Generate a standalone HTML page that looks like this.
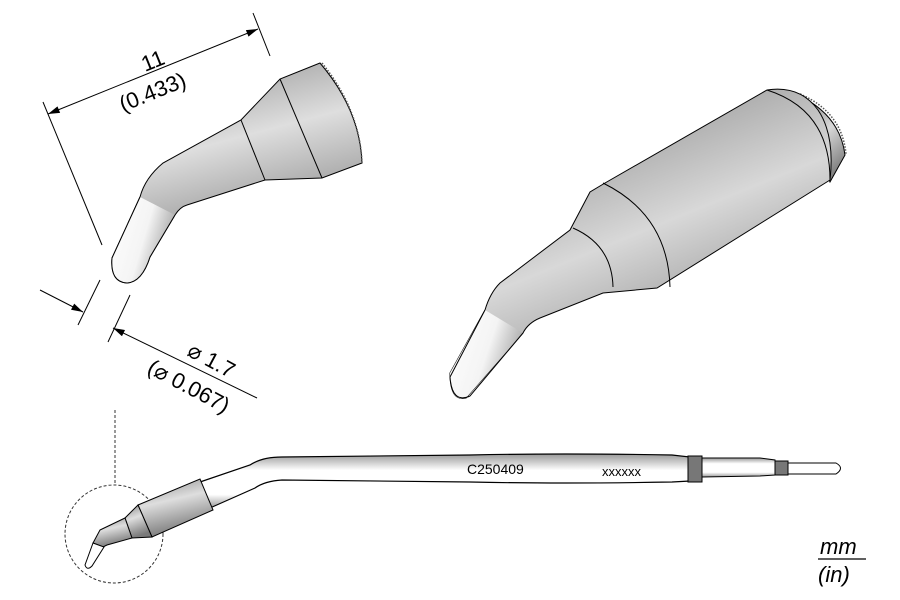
<!DOCTYPE html>
<html><head><meta charset="utf-8"><style>
html,body{margin:0;padding:0;background:#fff;}
svg{display:block;font-family:"Liberation Sans",Arial,sans-serif;}
</style></head><body>
<svg width="900" height="600" viewBox="0 0 900 600" xmlns="http://www.w3.org/2000/svg">
<defs>
<linearGradient id="g1" x1="0" y1="0" x2="0.3" y2="1">
<stop offset="0" stop-color="#8a8a8a"/><stop offset="0.45" stop-color="#dedede"/><stop offset="1" stop-color="#7a7a7a"/></linearGradient>
<linearGradient id="g2" x1="0.3" y1="0" x2="0.8" y2="1">
<stop offset="0" stop-color="#8a8a8a"/><stop offset="0.45" stop-color="#d8d8d8"/><stop offset="1" stop-color="#6e6e6e"/></linearGradient>
<linearGradient id="gw" x1="0" y1="0" x2="1" y2="0.4">
<stop offset="0" stop-color="#ffffff"/><stop offset="0.6" stop-color="#f4f4f4"/><stop offset="1" stop-color="#a8a8a8"/></linearGradient>
<linearGradient id="gs" x1="0" y1="0" x2="0" y2="1">
<stop offset="0" stop-color="#999"/><stop offset="0.3" stop-color="#fff"/><stop offset="0.75" stop-color="#fff"/><stop offset="1" stop-color="#999"/></linearGradient>
<marker id="ar" viewBox="0 0 10 6" refX="10" refY="3" markerWidth="18" markerHeight="7" orient="auto-start-reverse" markerUnits="userSpaceOnUse"><path d="M0,0L10,3L0,6z" fill="#000"/></marker>
</defs>

<!-- dimension 11 -->
<g stroke="#000" stroke-width="1" fill="none">
<line x1="43" y1="102" x2="102" y2="245"/>
<line x1="253" y1="13" x2="270" y2="56"/>
<line x1="48" y1="114" x2="258" y2="29" marker-start="url(#ar)" marker-end="url(#ar)"/>
</g>
<text x="145" y="72" font-size="22" transform="rotate(-22 145 72)">11</text>
<text x="123" y="112" font-size="22" transform="rotate(-22 123 112)">(0.433)</text>

<!-- small tip -->
<path d="M320,63 L280,79 L241,120 L163,163 Q145,178 140,197 L112,258 Q110,282 127,283 Q142,282 150,257 L175,215 Q180,207 187,205 L265,180 L322,178 L362,163 Q360,110 320,63Z" fill="url(#g1)" stroke="#000" stroke-width="1"/>
<path d="M140,197 L175,215 L150,257 Q142,282 127,283 Q110,282 112,258Z" fill="url(#gw)" stroke="none"/>
<path d="M175,215 L150,257 Q142,282 127,283 Q110,282 112,258 L140,197" fill="none" stroke="#000" stroke-width="1"/>
<line x1="241" y1="120" x2="265" y2="180" stroke="#000"/>
<line x1="280" y1="79" x2="322" y2="178" stroke="#000"/>
<path d="M322,63 Q360,110 362,163" fill="none" stroke="#555" stroke-width="1.5" stroke-dasharray="1.5 1.5"/>

<!-- dimension 1.7 -->
<g stroke="#000" stroke-width="1" fill="none">
<line x1="40" y1="290" x2="83" y2="312" marker-end="url(#ar)"/>
<line x1="113" y1="328" x2="257" y2="398" marker-start="url(#ar)"/>
<line x1="100" y1="280" x2="78" y2="325"/>
<line x1="130" y1="295" x2="108" y2="342"/>
</g>
<text x="186" y="355" font-size="22" transform="rotate(28 186 355)">⌀ 1.7</text>
<text x="146" y="372" font-size="22" transform="rotate(28 146 372)">(⌀ 0.067)</text>

<!-- large tip -->
<path d="M798,95 Q840,115 845,155 L830,182 L800,110Z" fill="url(#g2)" stroke="#000" stroke-width="1"/>
<path d="M800,94 Q842,112 846,154" fill="none" stroke="#555" stroke-width="1.5" stroke-dasharray="1.5 1.5"/>
<path d="M767,90 Q800,85 818,110 Q835,135 830,180 L657,288 L603,293 L540,318 Q528,323 523,333 L466,398 Q450,402 450,373 L485,310 Q490,293 500,283 L570,230 L590,192 L605,183Z" fill="url(#g2)" stroke="#000" stroke-width="1"/>
<path d="M485,310 L523,333 L466,398 Q450,402 450,373Z" fill="url(#gw)"/>
<path d="M523,333 L470,396 Q452,404 450,377 L485,310" fill="none" stroke="#000" stroke-width="1"/>
<path d="M573,228 Q612,245 613,287" fill="none" stroke="#000"/>
<path d="M603,183 Q668,215 670,287" fill="none" stroke="#000"/>
<path d="M767,90 Q830,110 830,180" fill="none" stroke="#000"/>

<!-- bottom tool -->
<line x1="115" y1="410" x2="115" y2="485" stroke="#333" stroke-dasharray="3 2"/>
<circle cx="114" cy="534" r="49" fill="none" stroke="#333" stroke-dasharray="3 2"/>
<path d="M200,482 L250,465 Q262,457 282,457 L470,455 Q560,453 672,455 L690,457 L690,481 L672,482 Q560,484 470,482 L282,480 Q265,481 255,488 L210,508Z" fill="url(#gs)" stroke="#000" stroke-width="1.2"/>
<path d="M138,505 L200,479 L213,510 L152,537Z" fill="url(#g1)" stroke="#000"/>
<path d="M125,518 L138,505 L152,537 L132,538Z" fill="url(#g1)" stroke="#000"/>
<path d="M100,530 L125,518 L132,538 L107,545 L103,547 L93,543 Z" fill="url(#g1)" stroke="#000"/>
<path d="M93,543 L104,547 L92,566 Q87,571 85,565Z" fill="#fff" stroke="#000" stroke-width="1"/>
<rect x="688" y="456" width="14" height="26" fill="#777" stroke="#000"/>
<path d="M702,458 L760,458 L775,460 L775,475 L760,476 L702,477Z" fill="url(#gs)" stroke="#000"/>
<rect x="775" y="461" width="13" height="14" fill="#777" stroke="#000"/>
<path d="M788,463 L836,463 Q845,468 836,474 L788,474Z" fill="#fff" stroke="#000"/>
<text x="467" y="474" font-size="14">C250409</text>
<text x="602" y="476" font-size="13">xxxxxx</text>

<!-- units -->
<text x="820" y="554" font-size="22" font-style="italic">mm</text>
<line x1="818" y1="559" x2="866" y2="559" stroke="#000" stroke-width="1.2"/>
<text x="818" y="582" font-size="22" font-style="italic">(in)</text>
</svg>
</body></html>
